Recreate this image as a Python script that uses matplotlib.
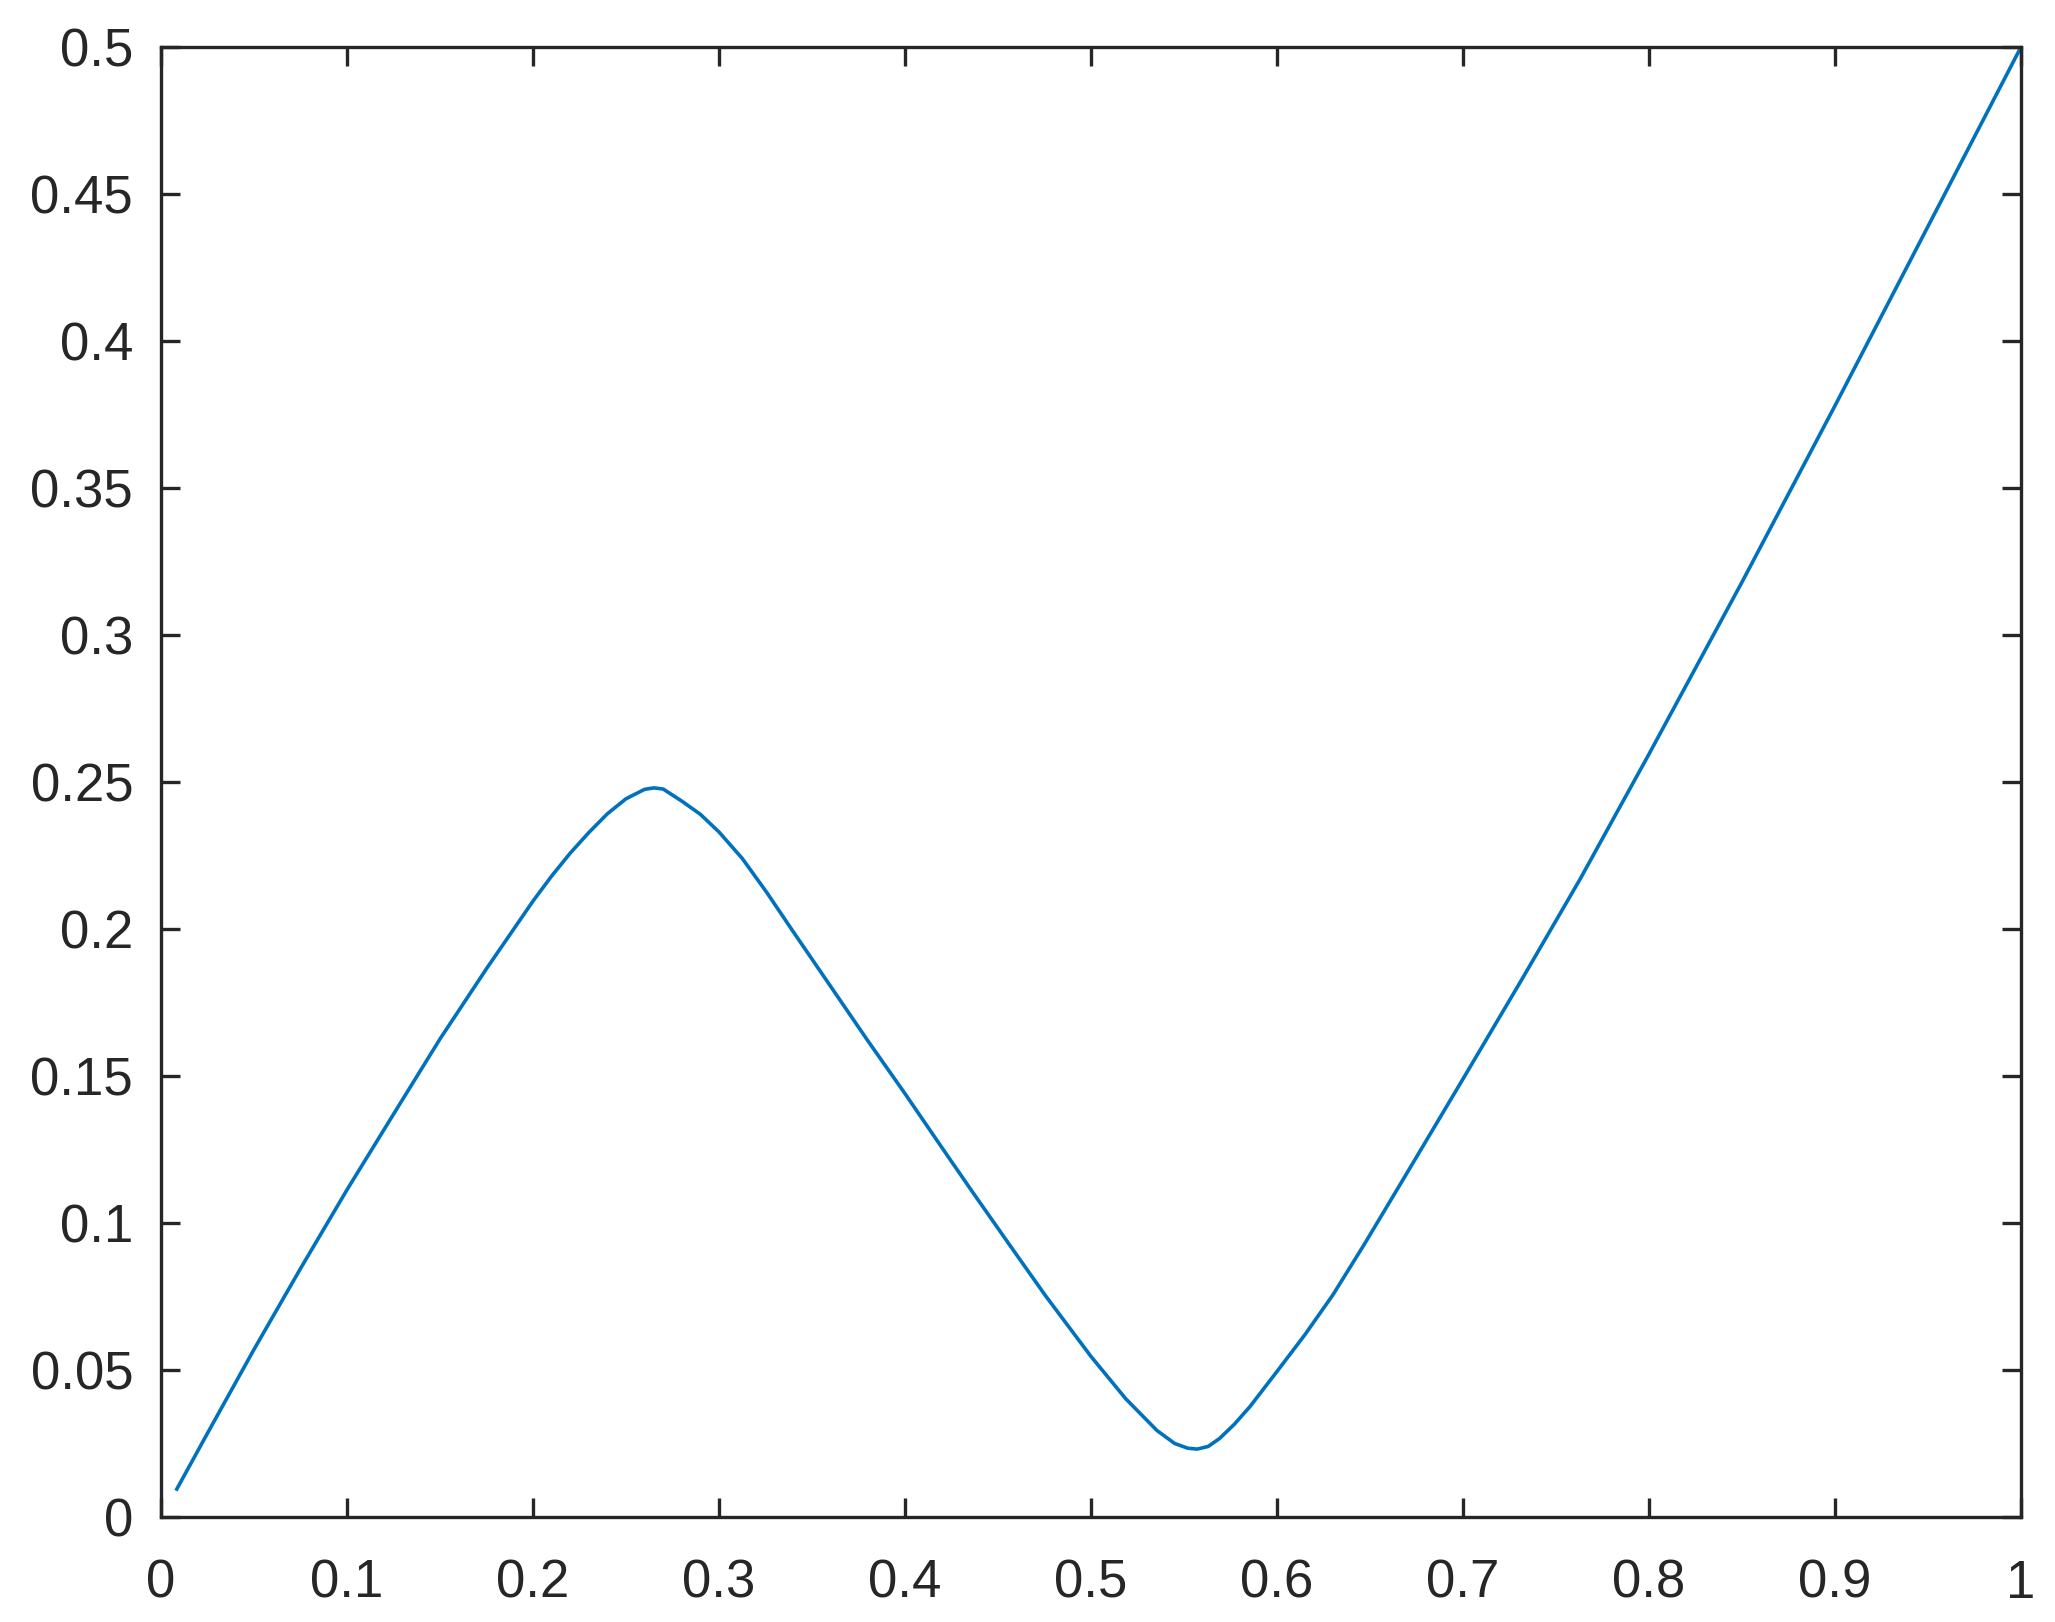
import matplotlib
matplotlib.use("Agg")
import matplotlib.pyplot as plt

# ----- data -----
x_vals = [0.0085, 0.025, 0.050, 0.075, 0.100, 0.125, 0.150, 0.175, 0.200, 0.210,
          0.220, 0.230, 0.240, 0.250, 0.260, 0.265, 0.270, 0.280, 0.290, 0.300,
          0.3125, 0.3256, 0.340, 0.360, 0.380, 0.400, 0.420, 0.4358, 0.4564,
          0.4755, 0.500, 0.5187, 0.5355, 0.5450, 0.5520, 0.5571, 0.5630, 0.5691,
          0.5770, 0.5854, 0.600, 0.615, 0.630, 0.6467, 0.6679, 0.7000, 0.7315,
          0.7629, 0.800, 0.850, 0.900, 0.950, 1.000]
y_vals = [0.0095, 0.0285, 0.0570, 0.0845, 0.1113, 0.1370, 0.1626, 0.1865, 0.2095, 0.2180,
          0.2258, 0.2328, 0.2392, 0.2443, 0.2475, 0.2480, 0.2476, 0.2435, 0.2390, 0.2330,
          0.2240, 0.2125, 0.1990, 0.1805, 0.1620, 0.1440, 0.1255, 0.1110, 0.0924,
          0.0753, 0.0546, 0.0402, 0.0294, 0.0250, 0.0234, 0.0231, 0.0240, 0.0267,
          0.0315, 0.0375, 0.0495, 0.0620, 0.0755, 0.0925, 0.1149, 0.1490, 0.1827,
          0.2169, 0.2595, 0.3180, 0.3780, 0.4390, 0.5000]

x_ticks = [0, 0.1, 0.2, 0.3, 0.4, 0.5, 0.6, 0.7, 0.8, 0.9, 1]
x_labels = ["0", "0.1", "0.2", "0.3", "0.4", "0.5", "0.6", "0.7", "0.8", "0.9", "1"]
y_ticks = [0, 0.05, 0.1, 0.15, 0.2, 0.25, 0.3, 0.35, 0.4, 0.45, 0.5]
y_labels = ["0", "0.05", "0.1", "0.15", "0.2", "0.25", "0.3", "0.35", "0.4", "0.45", "0.5"]

plt.rcParams['font.family'] = ['Liberation Sans', 'DejaVu Sans']

fig = plt.figure(figsize=(20.55, 16.22), dpi=100)
ax = fig.add_axes([161 / 2055, 1 - 1517 / 1622, 1860 / 2055, 1470 / 1622])

ax.plot(x_vals, y_vals, color="#0072BD", lw=2.6, solid_joinstyle="round")

ax.set_xlim(0, 1)
ax.set_ylim(0, 0.5)
ax.set_xticks(x_ticks)
ax.set_xticklabels(x_labels)
ax.set_yticks(y_ticks)
ax.set_yticklabels(y_labels)

dark = "#262626"
for s in ax.spines.values():
    s.set_color(dark)
    s.set_linewidth(2.4)
ax.tick_params(axis="both", direction="in", length=14, width=2.4, color=dark,
               labelcolor=dark, labelsize=38, top=True, right=True)
ax.tick_params(axis="x", pad=30)
ax.tick_params(axis="y", pad=20)

fig.savefig("out.png", dpi=100)
plt.close(fig)
